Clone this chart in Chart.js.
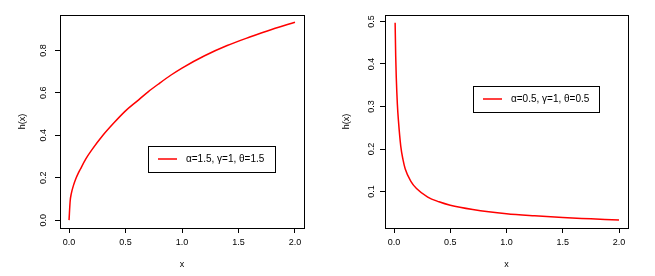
<!DOCTYPE html>
<html>
<head>
<meta charset="utf-8">
<script src="https://cdn.jsdelivr.net/npm/chart.js@4"></script>
<style>
  body { margin: 0; background: #fff; }
  #wrap { position: relative; width: 655px; height: 276px; }
  canvas { position: absolute; top: 0; }
</style>
</head>
<body>
<div id="wrap">
  <canvas id="leftChart" width="328" height="276" style="left:0"></canvas>
  <canvas id="rightChart" width="327" height="276" style="left:328px"></canvas>
</div>
<script>
// left panel: alpha=1.5, gamma=1, theta=1.5
const leftX = [0, 0.01, 0.02, 0.04, 0.06, 0.08, 0.1, 0.15, 0.2, 0.3, 0.4, 0.5, 0.6, 0.7, 0.8, 0.9, 1.0, 1.2, 1.4, 1.6, 1.8, 2.0];
const leftH = [0, 0.09, 0.125, 0.165, 0.195, 0.219, 0.24, 0.29, 0.33, 0.40, 0.46, 0.515, 0.56, 0.605, 0.645, 0.683, 0.717, 0.775, 0.823, 0.863, 0.9, 0.933];
const leftLabel = "α=1.5, γ=1, θ=1.5";
const leftYTicks = [0, 0.2, 0.4, 0.6, 0.8];

// right panel: alpha=0.5, gamma=1, theta=0.5
const rightX = [0.01, 0.015, 0.02, 0.03, 0.04, 0.06, 0.08, 0.1, 0.15, 0.2, 0.3, 0.4, 0.5, 0.7, 1.0, 1.25, 1.5, 1.75, 2.0];
const rightH = [0.497, 0.42, 0.37, 0.305, 0.265, 0.207, 0.175, 0.153, 0.124, 0.107, 0.087, 0.076, 0.068, 0.058, 0.048, 0.043, 0.039, 0.036, 0.033];
const rightLabel = "α=0.5, γ=1, θ=0.5";
const rightYTicks = [0.1, 0.2, 0.3, 0.4, 0.5];

const xTicks = [0, 0.5, 1, 1.5, 2];
const FONT = "'Liberation Sans', Arial, sans-serif";

// box, rotated y labels, axis titles and legend, R style
const rStyle = {
  id: "rStyle",
  afterDraw(chart, args, opts) {
    const ctx = chart.ctx;
    const a = chart.chartArea;
    const ys = chart.scales.y;
    ctx.save();
    ctx.strokeStyle = "#000";
    ctx.lineWidth = 1;
    ctx.strokeRect(Math.round(a.left) + 0.5, Math.round(a.top) + 0.5,
      Math.round(a.right - a.left), Math.round(a.bottom - a.top));

    ctx.fillStyle = "#000";
    ctx.font = "9px " + FONT;
    ctx.textAlign = "center";
    ctx.textBaseline = "middle";
    opts.yTicks.forEach(v => {
      ctx.save();
      ctx.translate(opts.yLabelX, ys.getPixelForValue(v));
      ctx.rotate(-Math.PI / 2);
      ctx.fillText(v.toFixed(1), 0, 0);
      ctx.restore();
    });

    // axis titles
    ctx.fillText("x", (a.left + a.right) / 2, 265);
    ctx.save();
    ctx.translate(opts.titleX, (a.top + a.bottom) / 2);
    ctx.rotate(-Math.PI / 2);
    ctx.fillText("h(x)", 0, 0);
    ctx.restore();

    // legend
    const lg = opts.legend;
    ctx.strokeRect(lg.x + 0.5, lg.y + 0.5, lg.w, lg.h);
    const my = lg.y + lg.h / 2;
    ctx.strokeStyle = "#ff0000";
    ctx.lineWidth = 1.5;
    ctx.beginPath();
    ctx.moveTo(lg.x + 10, my);
    ctx.lineTo(lg.x + 29, my);
    ctx.stroke();
    ctx.font = "10px " + FONT;
    ctx.textAlign = "left";
    ctx.fillText(lg.text, lg.x + 38, my);
    ctx.restore();
  }
};

function makeChart(id, xs, hs, yMin, yMax, yTicks, box, extra) {
  const pts = xs.map((x, i) => ({ x: x, y: hs[i] }));
  return new Chart(document.getElementById(id), {
    type: "line",
    data: {
      datasets: [{
        data: pts,
        borderColor: "#ff0000",
        borderWidth: 1.5,
        pointRadius: 0,
        tension: 0.4,
        cubicInterpolationMode: "monotone",
        fill: false
      }]
    },
    options: {
      responsive: false,
      animation: false,
      layout: { padding: { top: box.top, right: box.right, left: 0, bottom: 0 } },
      plugins: {
        legend: { display: false },
        tooltip: { enabled: false },
        rStyle: extra
      },
      scales: {
        x: {
          type: "linear",
          min: -0.08,
          max: 2.08,
          afterBuildTicks: s => { s.ticks = xTicks.map(v => ({ value: v })); },
          afterFit: s => { s.height = 276 - box.bottom; },
          ticks: {
            color: "#000",
            font: { size: 9, family: FONT },
            padding: 4,
            maxRotation: 0,
            callback: v => v.toFixed(1)
          },
          grid: { drawOnChartArea: false, color: "#000", tickLength: 5 },
          border: { color: "#000" }
        },
        y: {
          type: "linear",
          min: yMin,
          max: yMax,
          afterBuildTicks: s => { s.ticks = yTicks.map(v => ({ value: v })); },
          afterFit: s => { s.width = box.left; },
          ticks: { display: false },
          grid: { drawOnChartArea: false, color: "#000", tickLength: 5 },
          border: { color: "#000" }
        }
      }
    },
    plugins: [rStyle]
  });
}

makeChart("leftChart", leftX, leftH, -0.037, 0.967, leftYTicks,
  { left: 60, right: 24, top: 15, bottom: 228 },
  { yTicks: leftYTicks, yLabelX: 44, titleX: 23,
    legend: { x: 148, y: 146, w: 127, h: 26, text: leftLabel } });

makeChart("rightChart", rightX, rightH, 0.0144, 0.515, rightYTicks,
  { left: 57, right: 27, top: 15, bottom: 228 },
  { yTicks: rightYTicks, yLabelX: 44, titleX: 19,
    legend: { x: 145, y: 86, w: 126, h: 26, text: rightLabel } });
</script>
</body>
</html>
